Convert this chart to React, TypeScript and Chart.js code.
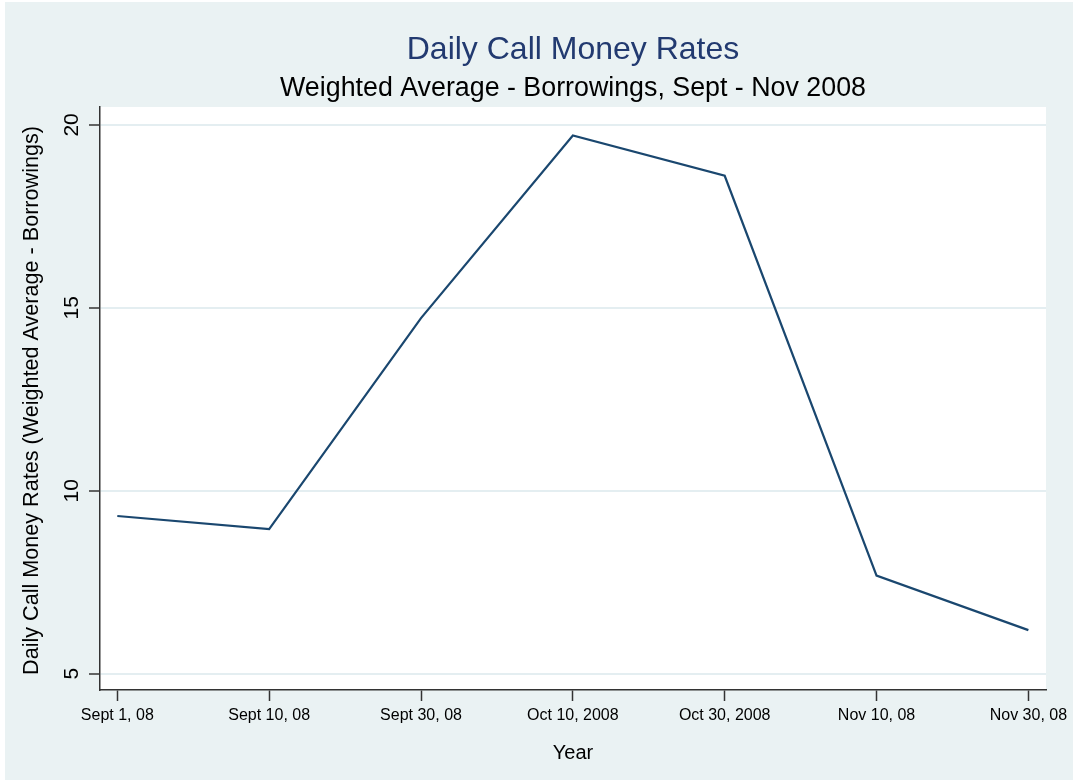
import React, { useEffect, useRef } from "react";
import { Chart, registerables } from "chart.js";

Chart.register(...registerables);

const categories = ["Sept 1, 08", "Sept 10, 08", "Sept 30, 08", "Oct 10, 2008", "Oct 30, 2008", "Nov 10, 08", "Nov 30, 08"];
const rates = [9.31, 8.95, 14.72, 19.71, 18.61, 7.68, 6.19];
const yTicks = [5, 10, 15, 20];

const titleText = "Daily Call Money Rates";
const subtitleText = "Weighted Average - Borrowings, Sept - Nov 2008";
const yTitleText = "Daily Call Money Rates (Weighted Average - Borrowings)";
const xTitleText = "Year";

const FONT = "'Liberation Sans', Arial, Helvetica, sans-serif";
const BG = "#EAF2F3";
const GRID = "#E4EEF1";
const LINE = "#1A476F";

export default function App() {
  const ref = useRef<HTMLCanvasElement | null>(null);

  useEffect(() => {
    if (!ref.current) return;
    const textPlugin = {
      id: "stataText",
      beforeDraw(chart: any) {
        const { ctx, chartArea } = chart;
        ctx.save();
        ctx.fillStyle = "#FFFFFF";
        ctx.fillRect(chartArea.left, chartArea.top, chartArea.right - chartArea.left, chartArea.bottom - chartArea.top);
        ctx.restore();
      },
      afterDraw(chart: any) {
        const { ctx, chartArea } = chart;
        const cx = (chartArea.left + chartArea.right) / 2;
        const cy = (chartArea.top + chartArea.bottom) / 2;
        ctx.save();
        ctx.textAlign = "center";
        ctx.textBaseline = "alphabetic";
        ctx.fillStyle = "#223A70";
        ctx.font = `32px ${FONT}`;
        ctx.fillText(titleText, cx, 56.5);
        ctx.fillStyle = "#000000";
        ctx.font = `26.8px ${FONT}`;
        ctx.fillText(subtitleText, cx, 94);
        ctx.font = `20px ${FONT}`;
        ctx.fillText(xTitleText, cx, 757);
        ctx.translate(32.5, cy + 2);
        ctx.rotate(-Math.PI / 2);
        ctx.font = `21.6px ${FONT}`;
        ctx.fillText(yTitleText, 0, 0);
        ctx.restore();
      },
    };

    const chart = new Chart(ref.current, {
      type: "line",
      data: {
        datasets: [
          {
            data: rates.map((v, i) => ({ x: i, y: v })),
            borderColor: LINE,
            borderWidth: 2.2,
            pointRadius: 0,
            fill: false,
            tension: 0,
          },
        ],
      },
      options: {
        responsive: false,
        animation: false,
        layout: { padding: { top: 105, right: 27, left: 0, bottom: 0 } },
        plugins: { legend: { display: false }, title: { display: false }, tooltip: { enabled: false } },
        scales: {
          x: {
            type: "linear",
            min: -0.114,
            max: 6.116,
            afterBuildTicks: (scale: any) => {
              scale.ticks = categories.map((_, i) => ({ value: i }));
            },
            afterFit: (scale: any) => {
              scale.height = 90;
            },
            grid: {
              drawOnChartArea: false,
              drawTicks: true,
              tickLength: 11,
              tickColor: "#333333",
              tickWidth: 1.5,
            },
            border: { display: true, color: "#333333", width: 1.5 },
            ticks: {
              autoSkip: false,
              maxRotation: 0,
              minRotation: 0,
              padding: 5,
              color: "#000000",
              font: { family: FONT, size: 16 },
              callback: (v: any) => categories[Math.round(Number(v))] ?? "",
            },
          },
          y: {
            type: "linear",
            min: 4.554,
            max: 20.49,
            afterBuildTicks: (scale: any) => {
              scale.ticks = yTicks.map((v) => ({ value: v }));
            },
            afterFit: (scale: any) => {
              scale.width = 95;
            },
            grid: {
              drawOnChartArea: true,
              color: GRID,
              lineWidth: 2,
              drawTicks: true,
              tickLength: 11,
              tickColor: "#333333",
              tickWidth: 1.5,
            },
            border: { display: true, color: "#333333", width: 1.5 },
            ticks: {
              minRotation: 90,
              maxRotation: 90,
              crossAlign: "center",
              padding: 5,
              color: "#000000",
              font: { family: FONT, size: 21 },
            },
          },
        },
      },
      plugins: [textPlugin],
    } as any);
    return () => chart.destroy();
  }, []);

  return (
    <div style={{ position: "fixed", left: 5, top: 2, width: 1068, height: 778, background: BG }}>
      <canvas ref={ref} width={1068} height={778} style={{ display: "block" }} />
    </div>
  );
}
